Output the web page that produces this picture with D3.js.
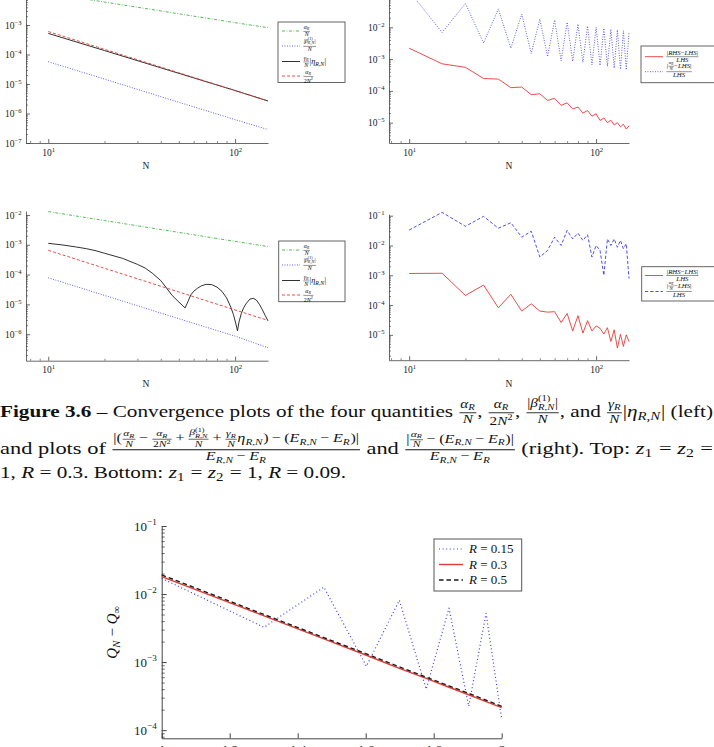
<!DOCTYPE html>
<html><head><meta charset="utf-8">
<script src="https://cdn.jsdelivr.net/npm/d3@7"></script>
<style>body{margin:0;background:#fff;}svg{display:block;}text{white-space:pre;}</style>
</head><body>
<svg id="c" width="714" height="747"></svg>
<script>
// ---------------- DATA ----------------
// Top-left (R = 0.3)
const tlN = [10, 20, 50, 100, 150];
const tlAlphaOverN = [1.2e-2, 6.0e-3, 2.4e-3, 1.2e-3, 8.1e-4];
const tlBetaOverN = [5.7e-5, 1.47e-5, 2.4e-6, 6.2e-7, 2.85e-7];
const tlGammaEta = [5.2e-4, 1.36e-4, 2.3e-5, 6.0e-6, 2.65e-6];
const tlAlphaOver2N2 = [6.0e-4, 1.5e-4, 2.4e-5, 6.0e-6, 2.7e-6];
// Top-right
const trN = [10,15,20,25,30,35,40,45,50,55,60,65,70,75,80,85,90,95,100,105,110,115,120,125,130,135,140,145,150];
const trRelErr = [2.2e-3,7.1e-4,5.5e-4,2.45e-4,2.35e-4,1.26e-4,1.32e-4,7.6e-5,8.1e-5,5.0e-5,5.8e-5,3.5e-5,4.2e-5,2.7e-5,3.1e-5,2.0e-5,2.4e-5,1.6e-5,1.9e-5,1.17e-5,1.4e-5,1.0e-5,1.2e-5,8.5e-6,1.0e-5,7.4e-6,8.9e-6,6.3e-6,7.9e-6];
const trAlphaErr = [1.38e-1,6.9e-3,5.6e-2,3.2e-3,3.8e-2,2.2e-3,2.6e-2,1.5e-3,1.8e-2,1.2e-3,1.7e-2,8.9e-4,1.45e-2,8.5e-4,1.26e-2,7.9e-4,1.1e-2,6.6e-4,1.0e-2,6.3e-4,9.3e-3,5.9e-4,8.7e-3,5.2e-4,8.3e-3,4.8e-4,7.8e-3,4.6e-4,7.2e-3];
// Bottom-left (R = 0.09)
const blN = [10, 20, 50, 100, 150];
const blAlphaOverN = [1.3e-2, 6.5e-3, 2.6e-3, 1.3e-3, 8.7e-4];
const blBetaOverN = [7.8e-5, 2.0e-5, 3.3e-6, 8.6e-7, 3.5e-7];
const blAlphaOver2N2 = [6.5e-4, 1.63e-4, 2.6e-5, 6.5e-6, 2.9e-6];
const blEtaN = [10,12,14,16,18,20,25,30,33,36,40,43,46,50,54,56,58,60,63,66,70,75,80,85,90,95,98,101,103,105,108,111,115,120,125,130,135,140,145,150];
const blGammaEta = [1.12e-3,9.8e-4,8.5e-4,7.4e-4,6.3e-4,5.2e-4,3.5e-4,2.2e-4,1.66e-4,1.12e-4,6.3e-5,3.5e-5,2.0e-5,1.2e-5,7.6e-6,1.26e-5,2.1e-5,2.75e-5,3.5e-5,4.2e-5,4.7e-5,4.6e-5,3.8e-5,2.75e-5,1.66e-5,7.9e-6,4.5e-6,2.2e-6,1.3e-6,2.6e-6,5.0e-6,7.6e-6,1.1e-5,1.5e-5,1.6e-5,1.4e-5,1.0e-5,6.6e-6,4.2e-6,2.8e-6];
// Bottom-right
const brN = [10,15,20,25,30,35,40,45,50,55,60,65,70,75,80,85,90,95,100,105,110,115,120,125,130,135,140,145,150];
const brRelErr = [1.15e-3,1.17e-3,2.1e-4,4.7e-4,8.1e-5,2.3e-4,6.3e-5,1.1e-4,6.3e-5,5.8e-5,6.0e-5,2.6e-5,5.2e-5,1.35e-5,4.4e-5,1.15e-5,3.0e-5,1.35e-5,2.0e-5,1.66e-5,1.07e-5,1.74e-5,6.0e-6,1.48e-5,3.6e-6,1.05e-5,4.1e-6,1.0e-5,6.0e-6];
const brAlphaErr = [3.3e-2,1.29e-1,4.4e-2,9.5e-2,3.8e-2,5.8e-2,1.9e-2,3.0e-2,4.1e-3,6.8e-3,1.9e-2,1.0e-2,3.2e-2,1.66e-2,2.6e-2,1.48e-2,2.3e-2,4.1e-3,1.0e-2,6.8e-3,1.0e-3,1.66e-2,1.0e-2,1.66e-2,8.7e-3,1.48e-2,7.8e-3,1.15e-2,7.8e-4];
// Bottom figure: Q_N - Q_inf
const qX = [1, 1.301, 1.477, 1.602, 1.699, 1.778, 1.845, 1.903, 1.954, 2];
const qR015 = [1.70e-2,3.24e-3,1.26e-2,8.7e-4,8.1e-3,4.0e-4,6.2e-3,2.24e-4,5.2e-3,1.45e-4];
const qR03 = [1.80e-2,4.79e-3,2.19e-3,1.26e-3,8.1e-4,5.75e-4,4.27e-4,3.31e-4,2.63e-4,2.14e-4];
const qR05 = [1.91e-2,5.0e-3,2.29e-3,1.32e-3,8.5e-4,6.0e-4,4.47e-4,3.47e-4,2.75e-4,2.24e-4];
// Tick labels
const smallXTickExp = [1, 2];
const tlYTickExp = [-7,-6,-5,-4,-3];
const trYTickExp = [-5,-4,-3,-2];
const blYTickExp = [-6,-5,-4,-3,-2];
const brYTickExp = [-5,-4,-3,-2,-1];
const qYTickExp = [-4,-3,-2,-1];
const qXTicks = [1, 1.2, 1.4, 1.6, 1.8, 2];
const qXTickLabels = ['1','1.2','1.4','1.6','1.8','2'];
const qLegend = ['0.15','0.3','0.5'];

// ---------------- DRAWING ----------------
const svg = d3.select('#c');
const FONT = "'Liberation Serif','Times New Roman',serif";
const C_GREEN = '#45b045', C_BLUE = '#3b3be6', C_RED = '#e53a35', C_BLACK = '#1a1a1a';

function run(g, str, x, y, fs, style, weight){
  const t = g.append('text').attr('x',x).attr('y',y).attr('font-size',fs)
    .attr('font-family',FONT).attr('fill','#111').style('white-space','pre');
  if(style) t.attr('font-style',style);
  if(weight) t.attr('font-weight',weight);
  t.text(str);
  return t.node().getComputedTextLength();
}
function fracLay(g, it, cx, y, fs){
  const fs2 = fs*0.72;
  const gn = g.append('g'), gd = g.append('g');
  const wn = lay(gn, it.frac[0], 0, 0, fs2), wd = lay(gd, it.frac[1], 0, 0, fs2);
  const bn = gn.node().getBBox(), bd = gd.node().getBBox();
  const depth = bn.y + bn.height - 0.12*fs2;
  const height = -bd.y - 0.2*fs2;
  const nb = y - Math.max(0.40*fs, 0.36*fs + depth);
  const db = y + Math.max(0.36*fs, -0.14*fs + height);
  const ax = y - 0.25*fs;
  const w = Math.max(wn, wd), pad = 0.08*fs;
  gn.attr('transform', `translate(${cx+pad+(w-wn)/2},${nb})`);
  gd.attr('transform', `translate(${cx+pad+(w-wd)/2},${db})`);
  g.append('line').attr('x1',cx+pad*0.5).attr('x2',cx+w+pad*1.5).attr('y1',ax).attr('y2',ax)
    .attr('stroke','#111').attr('stroke-width',Math.max(0.45, fs*0.045));
  return cx + w + 2*pad;
}
function lay(g, items, x, y, fs){
  let cx = x;
  for(const it of items){
    if(typeof it === 'string'){ cx += run(g,it,cx,y,fs); continue; }
    if(it.i!==undefined){ cx += run(g,it.i,cx,y,fs,'italic'); continue; }
    if(it.b!==undefined){ cx += run(g,it.b,cx,y,fs,null,'bold'); continue; }
    if(it.sp!==undefined){ cx += it.sp*fs; continue; }
    if(it.frac){ cx = fracLay(g,it,cx,y,fs); continue; }
    if(it.sub||it.sup){
      let e = cx;
      if(it.sup) e = Math.max(e, lay(g,it.sup,cx,y-(it.sub?0.45:0.4)*fs,fs*0.7));
      if(it.sub) e = Math.max(e, lay(g,it.sub,cx,y+(it.sup?0.28:0.2)*fs,fs*0.7));
      cx = e + 0.04*fs;
    }
  }
  return cx;
}
const I = s => ({i:s});
const sub = (...a) => ({sub:a});
const frac = (n,d) => ({frac:[n,d]});
const aR = () => [I('α'), sub(I('R'))];
const gR = () => [I('γ'), sub(I('R'))];
const RN = () => [I('R'), ',', I('N')];
const beta1 = () => [I('β'), {sub:RN(), sup:['(1)']}];
const eta = () => [I('η'), sub(...RN())];
const ERN = () => [I('E'), sub(...RN())];
const ER = () => [I('E'), sub(I('R'))];
const N2 = () => ['2', I('N'), {sup:['2']}];

function minorTicks(dom){
  const out = [];
  const lo = Math.floor(Math.log10(dom[0])), hi = Math.ceil(Math.log10(dom[1]));
  for(let k=lo;k<=hi;k++) for(let m=2;m<=9;m++){ const v=m*Math.pow(10,k); if(v>=dom[0]&&v<=dom[1]) out.push(v); }
  return out;
}
function supLabel(sel, exps, fs){
  sel.each(function(d,i){
    const t = d3.select(this);
    t.attr('font-family',FONT).attr('font-size',fs).attr('fill','#222').text('10');
    const e = exps[i];
    t.append('tspan').attr('dy', -0.42*fs).attr('font-size', fs*0.7).text(e<0 ? '−'+(-e) : ''+e);
  });
}
function panel(p){
  const g = svg.append('g').attr('color','#444');
  const x = (p.xLinear ? d3.scaleLinear() : d3.scaleLog()).domain(p.xDomain).range(p.xRange);
  const y = d3.scaleLog().domain(p.yDomain).range(p.yRange);
  const ml = p.majorLen, nl = p.minorLen, sw = p.axisW;
  const gym = g.append('g').attr('transform',`translate(${p.xRange[0]},0)`)
    .call(d3.axisLeft(y).tickValues(minorTicks(p.yDomain)).tickSizeInner(-nl).tickSizeOuter(0).tickFormat(''));
  gym.select('.domain').remove();
  gym.selectAll('line').attr('stroke-width',sw*0.8);
  const gy = g.append('g').attr('transform',`translate(${p.xRange[0]},0)`)
    .call(d3.axisLeft(y).tickValues(p.yTickExp.map(e=>Math.pow(10,e))).tickSizeInner(-ml).tickSizeOuter(0).tickPadding(p.ypad).tickFormat(()=>''));
  gy.selectAll('path,line').attr('stroke-width',sw);
  supLabel(gy.selectAll('.tick text'), p.yTickExp, p.tfs);
  if(p.xLinear){
    const gx = g.append('g').attr('transform',`translate(0,${p.yRange[0]})`)
      .call(d3.axisBottom(x).tickValues(p.xTicks).tickSizeInner(-ml).tickSizeOuter(0).tickPadding(p.xpad).tickFormat((d,i)=>p.xTickLabels[i]));
    gx.selectAll('path,line').attr('stroke-width',sw);
    gx.selectAll('.tick text').attr('font-family',FONT).attr('font-size',p.tfs).attr('fill','#222');
  } else {
    const gxm = g.append('g').attr('transform',`translate(0,${p.yRange[0]})`)
      .call(d3.axisBottom(x).tickValues(minorTicks(p.xDomain)).tickSizeInner(-nl).tickSizeOuter(0).tickFormat(''));
    gxm.select('.domain').remove();
    gxm.selectAll('line').attr('stroke-width',sw*0.8);
    const gx = g.append('g').attr('transform',`translate(0,${p.yRange[0]})`)
      .call(d3.axisBottom(x).tickValues(p.xTickExp.map(e=>Math.pow(10,e))).tickSizeInner(-ml).tickSizeOuter(0).tickPadding(p.xpad).tickFormat(()=>''));
    gx.selectAll('path,line').attr('stroke-width',sw);
    supLabel(gx.selectAll('.tick text'), p.xTickExp, p.tfs);
  }
  const line = d3.line().x(d=>x(d[0])).y(d=>y(d[1]));
  p.series.forEach(s=>{
    g.append('path').datum(d3.zip(s.x,s.y)).attr('d',line).attr('fill','none')
      .attr('stroke',s.color).attr('stroke-width',s.w).attr('stroke-dasharray',s.dash||null)
      .attr('stroke-linejoin','round');
  });
  if(p.xlabel){
    g.append('text').attr('x',p.xlabel[0]).attr('y',p.xlabel[1]).attr('text-anchor','middle')
      .attr('font-family',FONT).attr('font-size',p.tfs).attr('fill','#222').text('N');
  }
  return {x,y};
}
function legend(L){
  const g = svg.append('g');
  g.append('rect').attr('x',L.box[0]).attr('y',L.box[1]).attr('width',L.box[2]).attr('height',L.box[3])
    .attr('fill','#fff').attr('stroke','#555').attr('stroke-width',L.bw||0.9);
  L.entries.forEach(e=>{
    g.append('line').attr('x1',L.sx[0]).attr('x2',L.sx[1]).attr('y1',e.y).attr('y2',e.y)
      .attr('stroke',e.color).attr('stroke-width',e.w).attr('stroke-dasharray',e.dash||null);
    lay(g, e.items, L.tx, e.y + (L.base||0.25)*L.fs, L.fs);
  });
}

const DASHDOT = '3,1.6,0.8,1.6', DOT = '0.9,1.6', DASH = '3,2';
const smallCommon = {majorLen:4, minorLen:2, axisW:0.8, tfs:9.5, ypad:4.5, xpad:6, xTickExp:smallXTickExp};

panel(Object.assign({}, smallCommon, {
  xDomain:[7.6,150], xRange:[26,268], yDomain:[1e-7, Math.pow(10,-2.1)], yRange:[143, -1.55],
  yTickExp: tlYTickExp, xlabel:[146,169],
  series:[
    {x:tlN, y:tlAlphaOverN, color:C_GREEN, w:0.9, dash:DASHDOT},
    {x:tlN, y:tlBetaOverN, color:C_BLUE, w:0.9, dash:DOT},
    {x:tlN, y:tlGammaEta, color:C_BLACK, w:0.9},
    {x:tlN, y:tlAlphaOver2N2, color:C_RED, w:0.9, dash:DASH}
  ]}));
panel(Object.assign({}, smallCommon, {
  xDomain:[7.8,150], xRange:[389,629], yDomain:[Math.pow(10,-5.64), Math.pow(10,-1.1)], yRange:[143, -1.3],
  yTickExp: trYTickExp, xlabel:[509,169],
  series:[
    {x:trN, y:trRelErr, color:C_RED, w:0.9},
    {x:trN, y:trAlphaErr, color:C_BLUE, w:0.9, dash:DOT}
  ]}));
panel(Object.assign({}, smallCommon, {
  xDomain:[7.6,150], xRange:[26,268], yDomain:[Math.pow(10,-6.89), Math.pow(10,-1.87)], yRange:[360.7, 211.1],
  yTickExp: blYTickExp, xlabel:[146,387],
  series:[
    {x:blN, y:blAlphaOverN, color:C_GREEN, w:0.9, dash:DASHDOT},
    {x:blN, y:blBetaOverN, color:C_BLUE, w:0.9, dash:DOT},
    {x:blEtaN, y:blGammaEta, color:C_BLACK, w:0.9},
    {x:blN, y:blAlphaOver2N2, color:C_RED, w:0.9, dash:DASH}
  ]}));
panel(Object.assign({}, smallCommon, {
  xDomain:[7.8,150], xRange:[389,629], yDomain:[Math.pow(10,-5.85), Math.pow(10,-0.95)], yRange:[360.2, 214.2],
  yTickExp: brYTickExp, xlabel:[509,387],
  series:[
    {x:brN, y:brRelErr, color:C_RED, w:0.9},
    {x:brN, y:brAlphaErr, color:C_BLUE, w:0.9, dash:'3.2,2'}
  ]}));

// Small legends
const leftLegendEntries = (y0) => [
  {y:y0, color:C_GREEN, w:0.9, dash:DASHDOT, items:[frac(aR(),[I('N')])]},
  {y:y0+15, color:C_BLUE, w:0.9, dash:DOT, items:[frac(['|',...beta1(),'|'],[I('N')])]},
  {y:y0+30.5, color:C_BLACK, w:0.9, items:[frac(gR(),[I('N')]),'|',...eta(),'|']},
  {y:y0+45, color:C_RED, w:0.9, dash:DASH, items:[frac(aR(),N2())]}
];
legend({box:[278,22,67,60.5], sx:[282,300], tx:303, fs:8.3, base:0.3, entries:leftLegendEntries(31)});
legend({box:[278.7,241,66.3,60.7], sx:[282,300], tx:303, fs:8.3, base:0.3, entries:leftLegendEntries(250)});
const rightLegendEntries = (y0, dy, dash2) => [
  {y:y0, color:C_RED, w:0.9, items:[frac(['|',I('RHS'),'−',I('LHS'),'|'],[I('LHS')])]},
  {y:y0+dy, color:C_BLUE, w:0.9, dash:dash2, items:[frac(['|',frac(aR(),[I('N')]),'−',I('LHS'),'|'],[I('LHS')])]}
];
legend({box:[641,46,76,36.7], sx:[645,663], tx:666, fs:9.5, entries:rightLegendEntries(56.7,15,DOT)});
legend({box:[641.7,266.7,76,34.3], sx:[645,663], tx:666, fs:9.5, entries:rightLegendEntries(275.5,16,'3.2,2')});

// Caption
function captionLine(items, y, targetW, fs, sOverride){
  const g = svg.append('g');
  const inner = g.append('g');
  const w = lay(inner, items, 0, 0, fs);
  const s = sOverride || targetW/w;
  g.attr('transform', `translate(0,${y}) scale(${s},1)`);
  return s;
}
const CFS = 17;
const TS = '\u2009';
const s1 = captionLine([
  {b:'Figure 3.6'}, ' – Convergence plots of the four quantities ',
  frac(aR(),[I('N')]), ', ', frac(aR(),N2()), ', ',
  frac(['|',...beta1(),'|'],[I('N')]), ', and ', frac(gR(),[I('N')]), '|', ...eta(), '| (left)'
], 417, 713, CFS);
const denE = [...ERN(), TS+'−'+TS, ...ER()];
captionLine([
  'and plots of ',
  frac(['|(', frac(aR(),[I('N')]), TS+'−'+TS, frac(aR(),N2()), TS+'+'+TS, frac(beta1(),[I('N')]), TS+'+'+TS,
        frac(gR(),[I('N')]), ...eta(), ')'+TS+'−'+TS+'(', ...ERN(), TS+'−'+TS, ...ER(), ')|'], denE),
  ' and ',
  frac(['|', frac(aR(),[I('N')]), TS+'−'+TS+'(', ...ERN(), TS+'−'+TS, ...ER(), ')|'], denE),
  ' (right). Top: ', I('z'), sub('1'), ' = ', I('z'), sub('2'), ' ='
], 454, 713, CFS);
captionLine([
  '1, ', I('R'), ' = 0.3. Bottom: ', I('z'), sub('1'), ' = ', I('z'), sub('2'), ' = 1, ', I('R'), ' = 0.09.'
], 478, 713, CFS, s1);

// Bottom figure
panel({
  xLinear:true, xDomain:[1,2], xRange:[161.7,501.7], yDomain:[Math.pow(10,-4.12), 0.1], yRange:[738.3,526],
  xTicks:qXTicks, xTickLabels:qXTickLabels, yTickExp:qYTickExp,
  majorLen:5, minorLen:3, axisW:1, tfs:13, ypad:5, xpad:6,
  series:[
    {x:qX, y:qR015, color:C_BLUE, w:1.2, dash:'1,2.6'},
    {x:qX, y:qR03, color:C_RED, w:1.4},
    {x:qX, y:qR05, color:C_BLACK, w:1.4, dash:'4.5,3'}
  ]
});
{
  const g = svg.append('g').attr('transform','translate(117,632) rotate(-90)');
  const inner = g.append('g');
  const w = lay(inner, [I('Q'), sub(I('N')), ' − ', I('Q'), sub('∞')], 0, 0, 15);
  inner.attr('transform', `translate(${-w/2},0)`);
}
legend({box:[434,539,87.7,52], sx:[439,463], tx:469, fs:13, bw:1, base:0.33,
  entries:[
    {y:549, color:C_BLUE, w:1.2, dash:'1,2.6', items:[I('R'),' = '+qLegend[0]]},
    {y:564.5, color:C_RED, w:1.4, items:[I('R'),' = '+qLegend[1]]},
    {y:580, color:C_BLACK, w:1.4, dash:'4.5,3', items:[I('R'),' = '+qLegend[2]]}
  ]});
</script>
</body></html>
